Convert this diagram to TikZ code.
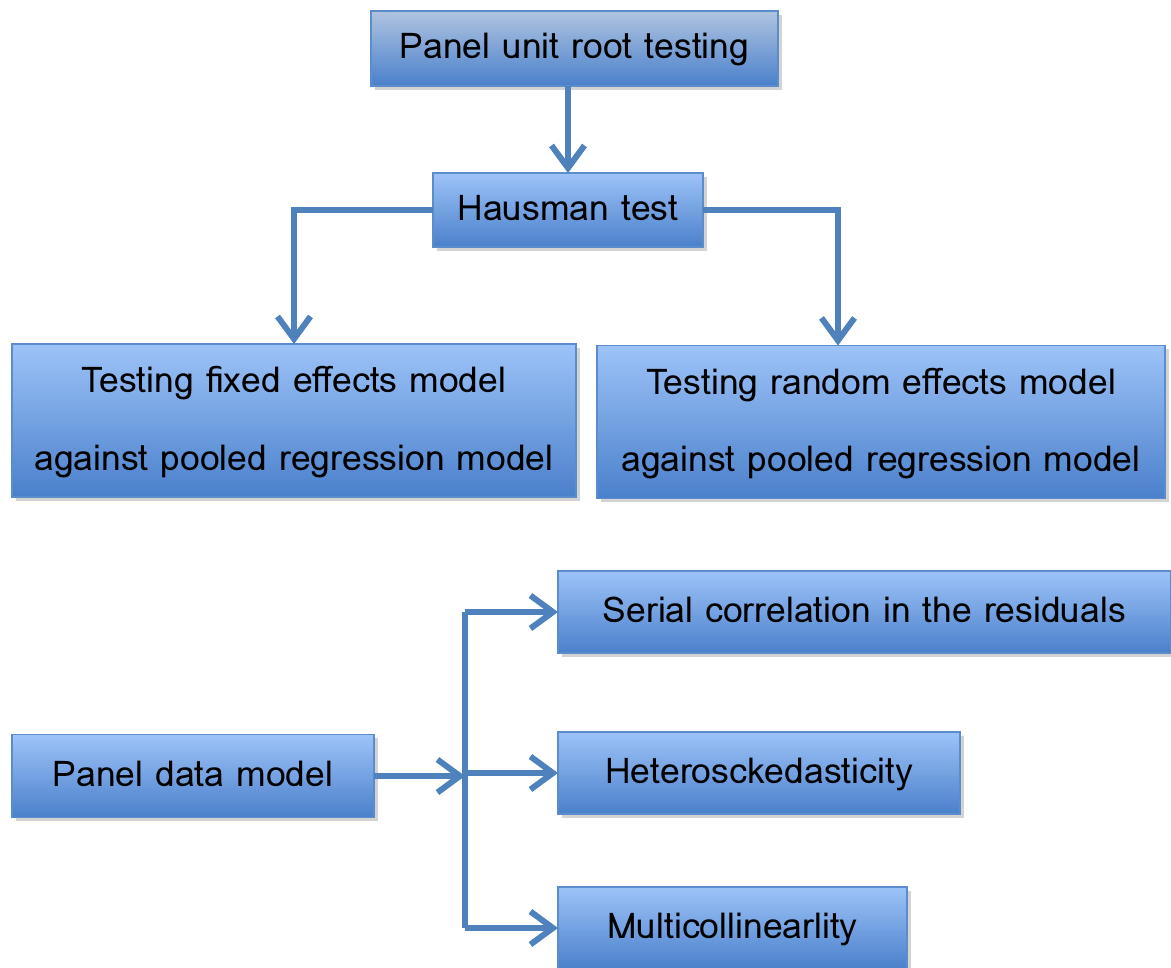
\documentclass[tikz,border=0pt]{standalone}
\usepackage{fontspec}
\usepackage{tikz}
\usetikzlibrary{arrows.meta,positioning,calc,shadows}
\setmainfont{Loma}
\definecolor{BoxTop}{HTML}{9DC3F8}
\definecolor{BoxBot}{HTML}{4A80CB}
\definecolor{HeadTop}{HTML}{AFC4E0}
\definecolor{Edge}{HTML}{5B8CCB}
\definecolor{Wire}{HTML}{4F81BD}

\begin{document}
\begin{tikzpicture}[
  stagebox/.style={draw=Edge,line width=0.6pt,top color=BoxTop,bottom color=BoxBot,
    inner sep=0pt,outer sep=0pt,align=center,font=\fontsize{20.2}{44}\selectfont,
    text depth=0.5ex,
    drop shadow={shadow xshift=0.07cm,shadow yshift=-0.07cm,opacity=0.35}},
  arrow/.style={-{Straight Barb[length=0.45cm,width=0.66cm,line width=3.4pt]},line width=3.2pt,Wire},
  wire/.style={line width=3.2pt,Wire}]
  \useasboundingbox (0,0) rectangle (23.42,-19.34);
  \node[stagebox,top color=HeadTop,minimum width=8.14cm,minimum height=1.5cm] (unitroot) at (11.49,-0.97) {Panel unit root testing};
  \node[stagebox,minimum width=5.4cm,minimum height=1.48cm] (hausman) at (11.36,-4.2) {Hausman test};
  \node[stagebox,minimum width=11.28cm,minimum height=3.06cm] (fixed) at (5.88,-8.41)
    {Testing fixed effects model\\against pooled regression model};
  \node[stagebox,minimum width=11.36cm,minimum height=3.06cm] (random) at (17.62,-8.44)
    {Testing random effects model\\against pooled regression model};
  \node[stagebox,minimum width=7.24cm,minimum height=1.66cm] (panel) at (3.86,-15.52) {Panel data model};
  \node[stagebox,minimum width=12.26cm,minimum height=1.64cm] (serial) at (17.29,-12.24) {Serial correlation in the residuals};
  \node[stagebox,minimum width=8.04cm,minimum height=1.64cm] (hetero) at (15.18,-15.46) {Heterosckedasticity};
  \node[stagebox,minimum width=6.98cm,minimum height=1.64cm] (multi) at (14.65,-18.56) {Multicollinearlity};
  \coordinate (split) at (9.3,-15.52);
  \coordinate (rdrop) at (16.76,-8.44);
  % upper part
  \draw[arrow] (unitroot.south -| hausman.north) -- (hausman.north);
  \draw[arrow] (hausman.west) -| (fixed.north);
  \draw[arrow] (hausman.east) -| (rdrop |- random.north);
  % lower part
  \draw[arrow] (panel.east) -- (split);
  \draw[wire] (split |- serial.west) -- (split |- multi.west);
  \draw[arrow] (split |- serial.west) -- (serial.west);
  \draw[arrow] (split |- hetero.west) -- (hetero.west);
  \draw[arrow] (split |- multi.west) -- (multi.west);
\end{tikzpicture}
\end{document}
